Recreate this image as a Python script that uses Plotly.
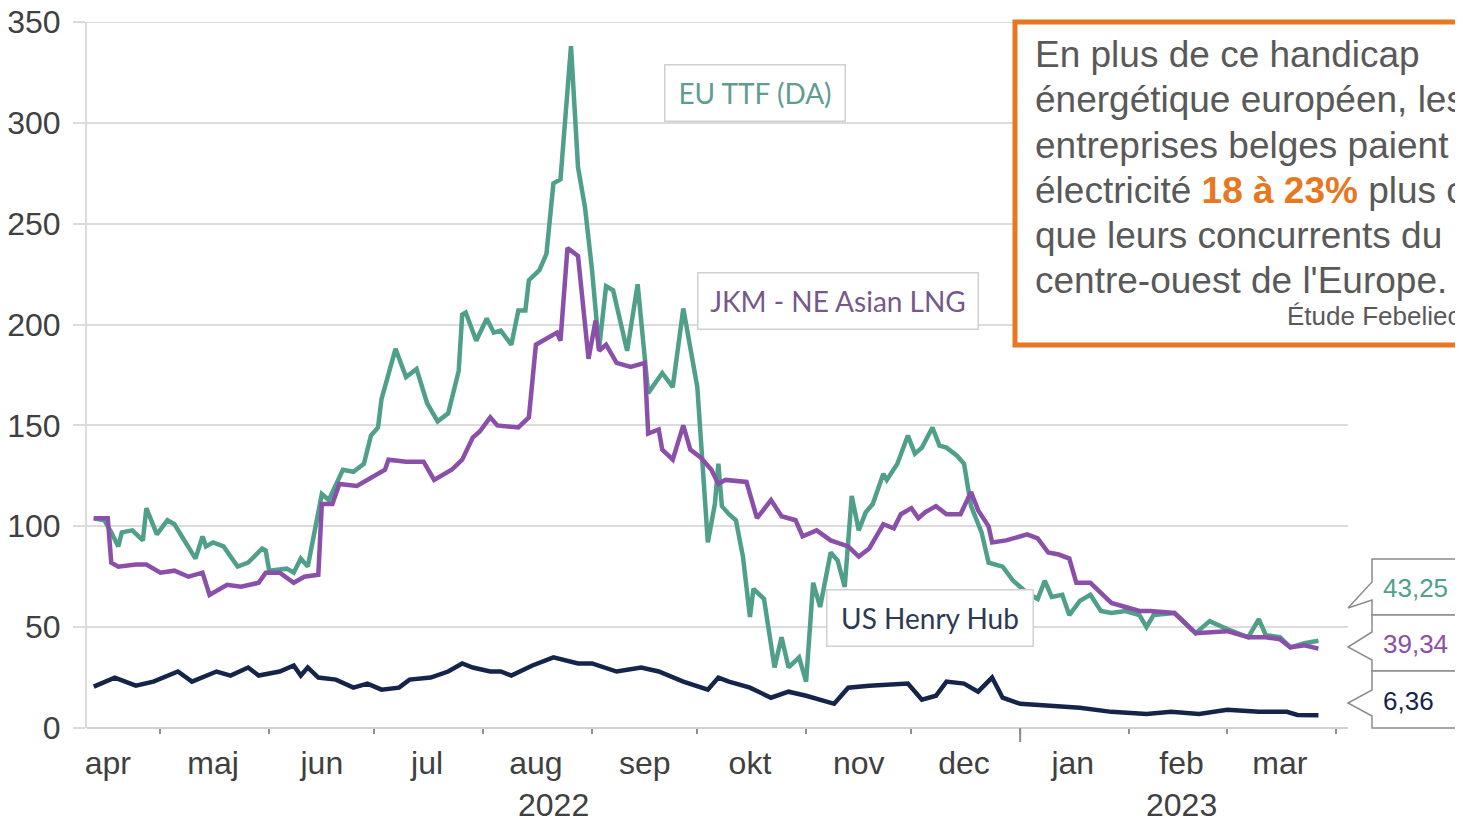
import plotly.graph_objects as go

# --- data (EUR/MWh) ---
ttf_dates = [
    "2022-04-12", "2022-04-15", "2022-04-17", "2022-04-19", "2022-04-20", "2022-04-23", "2022-04-26",
    "2022-04-27", "2022-04-30", "2022-05-03", "2022-05-05", "2022-05-08", "2022-05-11", "2022-05-13",
    "2022-05-14", "2022-05-16", "2022-05-19", "2022-05-23", "2022-05-26", "2022-05-30", "2022-05-31",
    "2022-06-01", "2022-06-06", "2022-06-08", "2022-06-10", "2022-06-12", "2022-06-14", "2022-06-16",
    "2022-06-18", "2022-06-22", "2022-06-25", "2022-06-28", "2022-06-30", "2022-07-02", "2022-07-03",
    "2022-07-07", "2022-07-10", "2022-07-13", "2022-07-16", "2022-07-19", "2022-07-22", "2022-07-25",
    "2022-07-26", "2022-07-27", "2022-07-30", "2022-08-02", "2022-08-04", "2022-08-06", "2022-08-09",
    "2022-08-11", "2022-08-13", "2022-08-14", "2022-08-17", "2022-08-19", "2022-08-21", "2022-08-23",
    "2022-08-26", "2022-08-28", "2022-08-30", "2022-09-01", "2022-09-03", "2022-09-05", "2022-09-07",
    "2022-09-08", "2022-09-11", "2022-09-14", "2022-09-16", "2022-09-17", "2022-09-21", "2022-09-24",
    "2022-09-27", "2022-09-29", "2022-10-01", "2022-10-04", "2022-10-06", "2022-10-07", "2022-10-08",
    "2022-10-10", "2022-10-12", "2022-10-14", "2022-10-16", "2022-10-17", "2022-10-20", "2022-10-23",
    "2022-10-25", "2022-10-27", "2022-10-30", "2022-11-01", "2022-11-03", "2022-11-05", "2022-11-08",
    "2022-11-10", "2022-11-12", "2022-11-14", "2022-11-16", "2022-11-18", "2022-11-20", "2022-11-23",
    "2022-11-24", "2022-11-27", "2022-11-30", "2022-12-02", "2022-12-04", "2022-12-07", "2022-12-09",
    "2022-12-11", "2022-12-14", "2022-12-16", "2022-12-18", "2022-12-21", "2022-12-23", "2022-12-27",
    "2022-12-30", "2023-01-03", "2023-01-06", "2023-01-08", "2023-01-10", "2023-01-13", "2023-01-15",
    "2023-01-18", "2023-01-21", "2023-01-24", "2023-01-27", "2023-01-31", "2023-02-04", "2023-02-06",
    "2023-02-08", "2023-02-14", "2023-02-20", "2023-02-24", "2023-03-01", "2023-03-07", "2023-03-10",
    "2023-03-12", "2023-03-16", "2023-03-19", "2023-03-23", "2023-03-27",
]
ttf_vals = [
    104, 103, 97, 90, 97, 98, 93,
    109, 96, 103, 101, 93, 84, 95,
    90, 92, 90, 80, 82, 89, 88,
    78, 79, 77, 84, 80, 98, 116,
    113, 128, 127, 131, 145, 149, 163,
    188, 174, 178, 161, 152, 156, 177,
    205, 206, 192, 203, 196, 197, 190,
    207, 207, 222, 227, 235, 270, 272,
    338, 278, 258, 227, 188, 219, 217,
    210, 187, 220, 184, 166, 176, 169,
    208, 189, 169, 92, 111, 131, 110,
    106, 103, 85, 55, 69, 64, 30,
    45, 30, 35, 23, 72, 60, 87,
    83, 70, 115, 98, 107, 111, 126,
    123, 131, 145, 136, 139, 149, 140,
    139, 135, 131, 110, 97, 82, 80,
    73, 67, 64, 73, 65, 66, 56,
    63, 66, 58, 57, 58, 56, 50,
    56, 57, 47, 53, 49, 45, 54,
    46, 45, 40, 42, 43.25,
]

jkm_dates = [
    "2022-04-12", "2022-04-16", "2022-04-17", "2022-04-19", "2022-04-24", "2022-04-27", "2022-05-01",
    "2022-05-05", "2022-05-09", "2022-05-13", "2022-05-15", "2022-05-17", "2022-05-20", "2022-05-24",
    "2022-05-29", "2022-05-31", "2022-06-04", "2022-06-08", "2022-06-11", "2022-06-15", "2022-06-16",
    "2022-06-19", "2022-06-21", "2022-06-26", "2022-06-30", "2022-07-04", "2022-07-05", "2022-07-10",
    "2022-07-15", "2022-07-18", "2022-07-23", "2022-07-26", "2022-07-29", "2022-07-31", "2022-08-03",
    "2022-08-05", "2022-08-11", "2022-08-14", "2022-08-16", "2022-08-19", "2022-08-22", "2022-08-23",
    "2022-08-25", "2022-08-28", "2022-08-31", "2022-09-02", "2022-09-03", "2022-09-05", "2022-09-08",
    "2022-09-12", "2022-09-16", "2022-09-17", "2022-09-20", "2022-09-21", "2022-09-24", "2022-09-27",
    "2022-09-29", "2022-10-02", "2022-10-05", "2022-10-07", "2022-10-09", "2022-10-15", "2022-10-18",
    "2022-10-22", "2022-10-25", "2022-10-29", "2022-10-31", "2022-11-04", "2022-11-08", "2022-11-13",
    "2022-11-16", "2022-11-19", "2022-11-23", "2022-11-26", "2022-11-28", "2022-12-01", "2022-12-03",
    "2022-12-05", "2022-12-08", "2022-12-11", "2022-12-15", "2022-12-18", "2022-12-20", "2022-12-23",
    "2022-12-24", "2022-12-28", "2023-01-03", "2023-01-06", "2023-01-09", "2023-01-12", "2023-01-15",
    "2023-01-17", "2023-01-21", "2023-01-24", "2023-01-27", "2023-01-31", "2023-02-04", "2023-02-07",
    "2023-02-14", "2023-02-20", "2023-03-01", "2023-03-07", "2023-03-12", "2023-03-16", "2023-03-19",
    "2023-03-23", "2023-03-27",
]
jkm_vals = [
    104, 104, 82, 80, 81, 81, 77,
    78, 75, 77, 66, 68, 71, 70,
    72, 77, 77, 72, 75, 76, 111,
    111, 121, 120, 124, 128, 133, 132,
    132, 123, 128, 133, 144, 147, 154,
    150, 149, 154, 190, 193, 196, 192,
    238, 234, 183, 202, 187, 190, 181,
    179, 181, 146, 148, 138, 133, 150,
    138, 134, 128, 121, 123, 122, 104,
    113, 105, 103, 95, 98, 93, 90,
    85, 89, 101, 99, 106, 109, 104,
    107, 110, 106, 106, 117, 108, 100,
    92, 93, 96, 94, 87, 86, 84,
    72, 72, 67, 62, 60, 58, 58,
    57, 47, 48, 45, 45, 44, 40,
    41, 39.34,
]

hh_dates = [
    "2022-04-12", "2022-04-18", "2022-04-24", "2022-04-29", "2022-05-06", "2022-05-10", "2022-05-17",
    "2022-05-21", "2022-05-26", "2022-05-29", "2022-06-04", "2022-06-08", "2022-06-10", "2022-06-12",
    "2022-06-15", "2022-06-20", "2022-06-25", "2022-06-29", "2022-07-03", "2022-07-08", "2022-07-11",
    "2022-07-17", "2022-07-22", "2022-07-26", "2022-07-29", "2022-08-03", "2022-08-06", "2022-08-09",
    "2022-08-15", "2022-08-21", "2022-08-28", "2022-09-01", "2022-09-08", "2022-09-15", "2022-09-20",
    "2022-09-27", "2022-10-04", "2022-10-07", "2022-10-10", "2022-10-16", "2022-10-22", "2022-10-27",
    "2022-11-01", "2022-11-09", "2022-11-13", "2022-11-19", "2022-11-30", "2022-12-04", "2022-12-08",
    "2022-12-11", "2022-12-16", "2022-12-20", "2022-12-24", "2022-12-27", "2023-01-01", "2023-01-09",
    "2023-01-18", "2023-01-27", "2023-02-06", "2023-02-13", "2023-02-21", "2023-03-01", "2023-03-10",
    "2023-03-18", "2023-03-21", "2023-03-27",
]
hh_vals = [
    20.5, 25, 21, 23, 28, 23, 28,
    26, 30, 26, 28, 31, 26, 30,
    25, 24, 20, 22, 19, 20, 24,
    25, 28, 32, 30, 28, 28, 26,
    31, 35, 32, 32, 28, 30, 28,
    23, 19, 25, 23, 20, 15, 18,
    16, 12, 20, 21, 22, 14, 16,
    23, 22, 18, 25, 15, 12, 11,
    10, 8, 7, 8, 7, 9, 8,
    8, 6.5, 6.36,
]

month_ticks = ["2022-04-16", "2022-05-16", "2022-06-16", "2022-07-16", "2022-08-16", "2022-09-16",
               "2022-10-16", "2022-11-16", "2022-12-16", "2023-01-16", "2023-02-16", "2023-03-16"]
month_labels = ["apr", "maj", "jun", "jul", "aug", "sep", "okt", "nov", "dec", "jan", "feb", "mar"]

TEAL = "#4f9f8b"
PURPLE = "#8a4fa8"
NAVY = "#15254a"
ORANGE = "#e87722"
TXT = "#404040"
GRID = "#dcdcdc"

# the page puts the figure 8px in from the top-left corner of the window
OFF = 8
W, H = 1463 - OFF, 819 - OFF
# plot area in window pixels, used to place boxes and callouts
L, R, T, B = 87, 1348, 22, 728


def px(x):
    return (x - L) / (R - L)


def py(y):
    return (B - y) / (B - T)


fig = go.Figure()
for d, v, c in [(ttf_dates, ttf_vals, TEAL), (jkm_dates, jkm_vals, PURPLE), (hh_dates, hh_vals, NAVY)]:
    fig.add_trace(go.Scatter(x=d, y=v, mode="lines", line=dict(color=c, width=4.5), showlegend=False))

fig.update_layout(
    width=W, height=H,
    margin=dict(l=L - OFF, r=W - (R - OFF), t=T - OFF, b=H - (B - OFF)),
    plot_bgcolor="white", paper_bgcolor="white",
    font=dict(family="Liberation Sans, Arial", color=TXT, size=32),
)
fig.update_xaxes(
    type="date", range=["2022-04-10 02:00", "2023-04-04 10:00"], automargin=False,
    tickvals=month_ticks, ticktext=month_labels, ticks="", showgrid=False,
    showline=False, zeroline=False, ticklabelstandoff=13,
    minor=dict(ticks="outside", ticklen=5, tickwidth=2, tickcolor="#8c8c8c",
               tick0="2022-05-01", dtick="M1", showgrid=False),
)
fig.update_yaxes(
    range=[0, 350], dtick=50, automargin=False, gridcolor=GRID, gridwidth=2,
    showline=True, linecolor=GRID, linewidth=2, ticklabeloverflow="allow",
    ticks="outside", ticklen=12, tickcolor=GRID, tickwidth=2, ticklabelstandoff=6,
    zeroline=True, zerolinecolor="#d0d0d0", zerolinewidth=2,
)

shapes = []
# top gridline at 350 (the edge gridline is not drawn by the axis)
shapes.append(dict(type="line", xref="paper", yref="y", x0=-12 / (R - L), x1=1, y0=350, y1=350,
                   line=dict(color=GRID, width=2), layer="below"))
# longer tick at the year boundary
shapes.append(dict(type="line", xref="x", yref="paper", x0="2023-01-01", x1="2023-01-01",
                   y0=0, y1=-14 / (B - T), line=dict(color="#8c8c8c", width=2)))

# callouts with the last values
last = [(ttf_vals[-1], TEAL), (jkm_vals[-1], PURPLE), (hh_vals[-1], NAVY)]
bands = [(559, 615, 582, 608, 600), (615, 671, 632, 647, 660), (671, 728, 690, 703, 716)]
xl, xt, xr = 1372, 1348, 1490
for (top, bot, w0, tip, w1), (val, col) in zip(bands, last):
    path = (f"M {px(xr)},{py(top)} L {px(xl)},{py(top)} L {px(xl)},{py(w0)} "
            f"L {px(xt)},{py(tip)} L {px(xl)},{py(w1)} L {px(xl)},{py(bot)} L {px(xr)},{py(bot)}")
    shapes.append(dict(type="path", xref="paper", yref="paper", path=path,
                       line=dict(color="#8c8c8c", width=1.5), fillcolor="white", layer="above"))
    fig.add_annotation(xref="paper", yref="paper", x=px(1381), y=py((top + bot) / 2 + 1),
                       xanchor="left", yanchor="middle", showarrow=False,
                       text=f"{val:.2f}".replace(".", ","),
                       font=dict(family="Liberation Sans, Arial", size=26, color=col))

# orange quote box
shapes.append(dict(type="rect", xref="paper", yref="paper", x0=px(1015), x1=px(1490),
                   y0=py(345), y1=py(22), line=dict(color=ORANGE, width=5), fillcolor="white",
                   layer="above"))
fig.update_layout(shapes=shapes)

# series labels
labels = [
    ("EU TTF (DA)", 754.5, 92.5, 183, "#5f9c92"),
    ("JKM - NE Asian LNG", 837.5, 301, 283, "#765889"),
    ("US Henry Hub", 929.5, 618, 209, "#2c3a52"),
]
for txt, cx, cy, w, col in labels:
    fig.add_annotation(xref="paper", yref="paper", x=px(cx), y=py(cy), xanchor="center",
                       yanchor="middle", showarrow=False, text=txt, width=w - 4, height=55,
                       bgcolor="white", bordercolor="#d0d0d0", borderwidth=1.5, borderpad=0,
                       font=dict(family="Lato, Open Sans", size=28, color=col))

quote = [
    "En plus de ce handicap",
    "énergétique européen, les",
    "entreprises belges paient leur",
    f"électricité <b><span style='color:{ORANGE}'>18 à 23%</span></b> plus cher",
    "que leurs concurrents du",
    "centre-ouest de l'Europe.",
]
for i, line in enumerate(quote):
    fig.add_annotation(xref="paper", yref="paper", x=px(1033), y=py(55 + 45 * i),
                       xanchor="left", yanchor="middle", showarrow=False, text=line,
                       font=dict(family="Liberation Sans, Arial", size=37, color="#595959"))
fig.add_annotation(xref="paper", yref="paper", x=px(1462), y=py(316), xanchor="right",
                   yanchor="middle", showarrow=False, text="Étude Febeliec",
                   font=dict(family="Liberation Sans, Arial", size=26, color="#595959"))

# years under the month labels
for yr, xd in [("2022", "2022-08-21"), ("2023", "2023-02-16")]:
    fig.add_annotation(xref="x", yref="paper", x=xd, y=py(805), xanchor="center",
                       yanchor="middle", showarrow=False, text=yr,
                       font=dict(family="Liberation Sans, Arial", size=32, color=TXT))

fig.write_html("out.html")
